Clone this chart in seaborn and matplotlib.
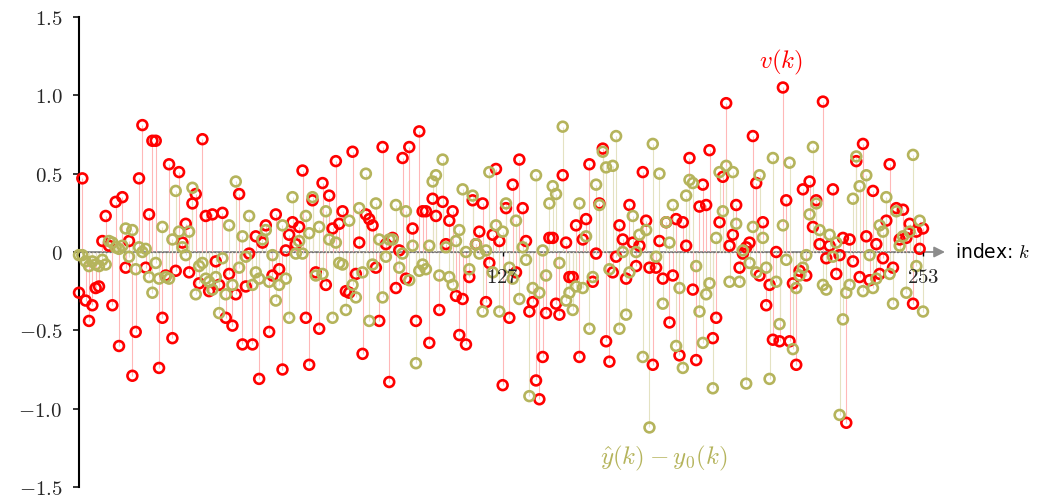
import matplotlib
matplotlib.use("Agg")
import matplotlib.pyplot as plt
import seaborn as sns
import pandas as pd

# ---- data ----
v_vals = [-0.26, 0.47, -0.31, -0.44, -0.34, -0.23, -0.22, 0.07, 0.23, 0.04,
          -0.34, 0.32, -0.60, 0.35, -0.10, 0.07, -0.79, -0.51, 0.47, 0.81,
          -0.10, 0.24, 0.71, 0.71, -0.74, -0.42, -0.15, 0.56, -0.55, -0.12,
          0.51, 0.06, 0.18, -0.13, 0.31, 0.37, -0.20, 0.72, 0.23, -0.25,
          0.24, -0.06, -0.21, 0.25, -0.42, -0.14, -0.47, -0.27, 0.37, -0.59,
          -0.22, -0.01, -0.59, 0.10, -0.81, 0.06, 0.17, -0.51, -0.15, 0.24,
          -0.11, -0.75, 0.01, 0.11, 0.19, 0.05, 0.16, 0.52, -0.42, -0.72,
          0.33, -0.13, -0.49, 0.44, -0.21, 0.36, 0.15, 0.58, 0.18, 0.26,
          -0.25, -0.26, 0.64, -0.14, 0.06, -0.65, 0.24, 0.21, 0.17, -0.10,
          -0.44, 0.67, 0.05, -0.83, 0.09, -0.23, 0.01, 0.60, -0.17, 0.67,
          0.15, -0.44, 0.77, 0.26, 0.26, -0.58, 0.34, 0.23, -0.37, 0.32,
          0.05, 0.20, 0.26, -0.28, -0.53, -0.30, -0.59, -0.16, 0.33, 0.05,
          0.13, 0.31, -0.32, -0.07, 0.11, 0.53, 0.07, -0.85, 0.28, -0.42,
          0.43, -0.13, 0.59, 0.28, 0.07, -0.38, -0.32, -0.82, -0.94, -0.67,
          -0.39, 0.09, 0.09, -0.33, -0.40, 0.49, 0.06, -0.16, -0.16, 0.17,
          -0.67, 0.08, 0.21, 0.56, -0.19, -0.01, 0.31, 0.66, -0.57, -0.70,
          -0.13, -0.03, 0.17, 0.08, -0.17, 0.30, 0.06, -0.09, 0.04, 0.51,
          0.20, -0.10, -0.72, -0.10, 0.07, -0.17, 0.19, -0.45, -0.15, 0.21,
          -0.66, 0.19, 0.04, 0.60, -0.24, -0.69, 0.29, 0.43, 0.30, 0.65,
          -0.55, -0.42, 0.19, 0.48, 0.95, 0.04, 0.11, 0.30, -0.10, -0.01,
          0.03, 0.06, 0.74, 0.44, -0.15, 0.19, -0.34, -0.21, -0.56, 0.00,
          -0.57, 1.05, 0.33, -0.57, -0.20, -0.72, -0.12, 0.40, -0.15, 0.45,
          0.16, 0.33, 0.05, 0.96, -0.04, 0.04, 0.40, -0.14, -0.02, 0.09,
          -1.09, 0.08, -0.06, 0.58, -0.16, 0.69, 0.10, -0.18, 0.39, 0.05,
          -0.14, -0.04, 0.20, 0.56, -0.10, 0.28, 0.08, 0.27, 0.09, 0.18,
          -0.33, 0.13, 0.02, 0.15]

e_vals = [-0.02, -0.02, -0.06, -0.09, -0.06, -0.08, -0.09, -0.05, -0.08, 0.07,
          0.06, 0.03, 0.02, 0.04, 0.15, -0.03, 0.14, -0.11, 0.03, 0.00,
          0.02, -0.16, -0.26, -0.07, -0.17, 0.16, -0.16, -0.17, 0.08, 0.39,
          0.13, 0.03, -0.02, 0.13, 0.41, -0.27, -0.09, -0.07, -0.17, -0.19,
          -0.24, -0.16, -0.39, -0.04, -0.27, 0.17, -0.21, 0.45, -0.10, 0.10,
          -0.03, 0.23, -0.21, -0.13, -0.17, 0.08, 0.14, -0.19, -0.02, -0.31,
          -0.21, 0.17, -0.17, -0.42, 0.35, -0.01, 0.07, -0.01, 0.23, 0.12,
          0.35, -0.15, 0.16, -0.14, 0.26, 0.08, -0.42, 0.06, -0.07, -0.08,
          -0.37, 0.20, -0.21, -0.29, 0.28, -0.13, 0.50, -0.44, -0.08, 0.31,
          0.08, -0.29, -0.03, 0.08, 0.08, 0.30, -0.10, -0.01, 0.26, -0.18,
          0.04, -0.71, -0.12, -0.08, -0.11, 0.04, 0.45, 0.49, -0.15, 0.59,
          0.03, -0.16, -0.21, 0.07, 0.14, 0.40, 0.00, -0.11, 0.36, 0.05,
          -0.01, -0.38, 0.01, 0.51, -0.13, 0.17, -0.38, 0.13, 0.31, -0.10,
          -0.17, 0.20, -0.30, 0.03, -0.05, -0.92, -0.23, 0.49, -0.26, 0.01,
          -0.15, 0.31, 0.42, 0.37, -0.07, 0.80, -0.31, -0.26, -0.37, -0.22,
          0.31, -0.23, 0.10, -0.49, -0.16, 0.43, 0.30, 0.64, 0.54, -0.11,
          0.55, 0.74, -0.49, 0.00, -0.40, -0.13, 0.23, 0.00, 0.11, -0.67,
          0.14, -1.12, 0.69, -0.03, 0.50, -0.33, 0.19, 0.06, 0.30, -0.60,
          -0.23, -0.74, 0.36, 0.46, 0.44, -0.09, -0.38, -0.58, -0.27, -0.20,
          -0.87, 0.09, 0.51, 0.26, 0.55, -0.19, 0.51, 0.18, -0.19, 0.01,
          -0.84, -0.07, 0.16, -0.13, 0.49, 0.09, -0.10, -0.81, 0.60, -0.19,
          -0.46, 0.17, -0.05, 0.57, -0.62, -0.23, -0.15, -0.10, -0.02, 0.24,
          0.67, 0.31, 0.14, -0.21, -0.24, 0.11, -0.03, 0.06, -1.04, -0.43,
          -0.26, -0.21, 0.34, 0.61, 0.42, -0.25, 0.49, -0.02, -0.23, -0.17,
          0.17, 0.13, 0.35, -0.14, -0.33, 0.26, 0.04, 0.10, -0.26, 0.13,
          0.62, -0.09, 0.20, -0.38]

k_vals = list(range(len(v_vals)))
x_ticks = [127, 253]
y_ticks = [-1.5, -1.0, -0.5, 0.0, 0.5, 1.0, 1.5]
y_tick_labels = ["$-1.5$", "$-1.0$", "$-0.5$", "$0$", "$0.5$", "$1.0$", "$1.5$"]

RED = "#ff0000"
OLIVE = "#b5b45c"
RED_STEM = "#ffb8b8"
OLIVE_STEM = "#e4e2c2"

sns.set_theme(style="white")
plt.rcParams["font.family"] = ["DejaVu Sans"]
plt.rcParams["mathtext.fontset"] = "cm"

df = pd.DataFrame({"k": k_vals, "v": v_vals, "e": e_vals})

fig = plt.figure(figsize=(10.44, 4.99), dpi=100)
ax = fig.add_axes([79 / 1044, 12 / 499, 866 / 1044, 470 / 499])
ax.set_facecolor("white")

x_end = 866 / 3.336
ax.set_xlim(0, x_end)
ax.set_ylim(-1.5, 1.5)

# axis arrow along zero
ax.annotate("", xy=(x_end, 0), xytext=(0, 0),
            arrowprops=dict(arrowstyle="-|>", color="#8c8c8c", lw=1.3,
                            mutation_scale=16, shrinkA=0, shrinkB=0),
            annotation_clip=False, zorder=1)

# stems
ax.vlines(df["k"], 0, df["v"], color=RED_STEM, lw=0.8, zorder=1.2)
ax.vlines(df["k"], 0, df["e"], color=OLIVE_STEM, lw=0.8, zorder=1.2)
ax.plot([0, 253], [0, 0], color="#6f6f6f", lw=0.9, ls=(0, (1.5, 1.5)), zorder=1.3)

# markers
sns.scatterplot(data=df, x="k", y="v", ax=ax, s=50, marker="o",
                linewidth=1.9, zorder=3, legend=False)
c1 = ax.collections[-1]
c1.set_facecolor("none"); c1.set_edgecolor(RED); c1.set_clip_on(False)
sns.scatterplot(data=df, x="k", y="e", ax=ax, s=50, marker="o",
                linewidth=1.9, zorder=3, legend=False)
c2 = ax.collections[-1]
c2.set_facecolor("none"); c2.set_edgecolor(OLIVE); c2.set_clip_on(False)

# spines & ticks
for s in ["top", "right"]:
    ax.spines[s].set_visible(False)
ax.spines["left"].set_linewidth(1.5)
ax.spines["left"].set_color("black")
ax.spines["bottom"].set_position(("data", 0))
ax.spines["bottom"].set_color("none")

ax.set_yticks(y_ticks)
ax.set_yticklabels(y_tick_labels)
ax.set_xticks(x_ticks)
ax.set_xticklabels([f"${t}$" for t in x_ticks])
ax.tick_params(axis="y", direction="out", length=4, width=1.1, color="black",
               labelsize=15, pad=8, left=True)
ax.tick_params(axis="x", direction="out", length=3, width=1.0, color="black",
               labelsize=15, pad=8, bottom=True)
ax.xaxis.set_zorder(5)
ax.set_xlabel(""); ax.set_ylabel("")

# annotations
ax.text(262.5, 0, "index: $k$", ha="left", va="center", fontsize=13.5,
        color="black")
ax.text(210.5, 1.21, "$v(k)$", ha="center", va="center", fontsize=18, color=RED)
ax.text(175.2, -1.32, r"$\hat{y}(k)-y_0(k)$", ha="center", va="center",
        fontsize=18, color=OLIVE)

fig.savefig("out.png", dpi=100)
